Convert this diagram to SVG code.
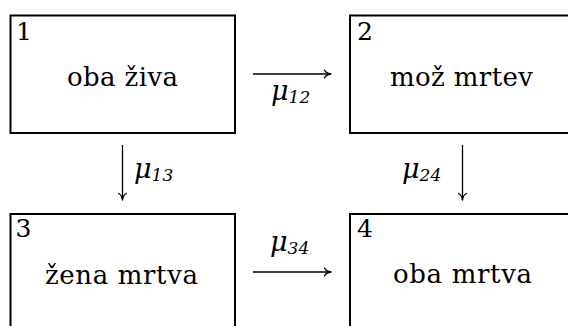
<svg xmlns="http://www.w3.org/2000/svg" width="568" height="326" viewBox="0 0 568 326">
<defs>
<marker id="arr" viewBox="-8 -5 10 10" refX="0" refY="0" markerWidth="10" markerHeight="10" markerUnits="userSpaceOnUse" orient="auto">
<path d="M -6.5,-4 C -5.5,-1.5 -2,-0.3 0,0 C -2,0.3 -5.5,1.5 -6.5,4" fill="none" stroke="#000" stroke-width="1.3" stroke-linecap="round" stroke-linejoin="round"/>
</marker>
<style>
.box{fill:#fff;stroke:#000;stroke-width:2}
.num{font-family:"DejaVu Serif",serif;font-size:25px;fill:#000}
.lbl{font-family:"DejaVu Serif",serif;font-size:26px;fill:#000;text-anchor:middle}
.mu{font-family:"DejaVu Serif",serif;font-style:italic;font-size:27px;fill:#000}
.sub{font-size:17px}
.edge{stroke:#000;stroke-width:1.3;fill:none;marker-end:url(#arr)}
</style>
</defs>
<g id="edges">
<line class="edge" x1="253" y1="74" x2="331" y2="74"/>
<line class="edge" x1="253" y1="272" x2="331" y2="272"/>
<line class="edge" x1="122.5" y1="145" x2="122.5" y2="200"/>
<line class="edge" x1="462.5" y1="145" x2="462.5" y2="200"/>
<text class="mu" x="271" y="100">μ<tspan class="sub" dy="3">12</tspan></text>
<text class="mu" x="134" y="178">μ<tspan class="sub" dy="3">13</tspan></text>
<text class="mu" x="402" y="178">μ<tspan class="sub" dy="3">24</tspan></text>
<text class="mu" x="270" y="251">μ<tspan class="sub" dy="3">34</tspan></text>
</g>
<g id="n1">
<rect class="box" x="10.5" y="15.5" width="224.5" height="117.5"/>
<text class="num" x="16" y="40">1</text>
<text class="lbl" x="122.5" y="86" textLength="111" lengthAdjust="spacing">oba živa</text>
</g>
<g id="n2">
<rect class="box" x="350" y="15.5" width="224.5" height="117.5"/>
<text class="num" x="357" y="40">2</text>
<text class="lbl" x="461.5" y="86" textLength="143" lengthAdjust="spacing">mož mrtev</text>
</g>
<g id="n3">
<rect class="box" x="10.5" y="214" width="224.5" height="117.5"/>
<text class="num" x="15.5" y="237">3</text>
<text class="lbl" x="121.5" y="283.5" textLength="153" lengthAdjust="spacing">žena mrtva</text>
</g>
<g id="n4">
<rect class="box" x="350" y="214" width="224.5" height="117.5"/>
<text class="num" x="357" y="237">4</text>
<text class="lbl" x="462.5" y="283" textLength="139" lengthAdjust="spacing">oba mrtva</text>
</g>
</svg>
